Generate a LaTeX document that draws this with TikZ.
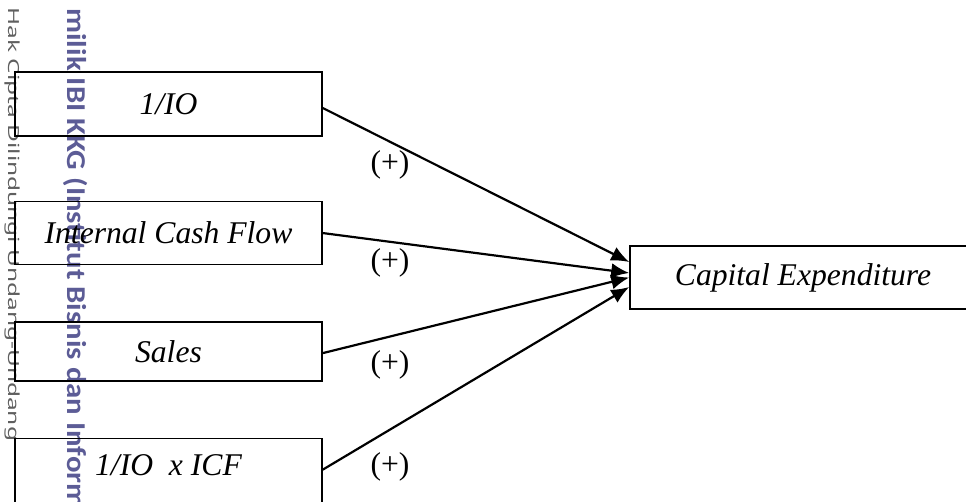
\documentclass[tikz,border=0pt]{standalone}
\usepackage{fontspec}
\setmainfont{Liberation Serif}
\newfontfamily\markfont{Noto Sans}
\newfontfamily\stampfont{Carlito}
\usetikzlibrary{positioning,arrows.meta}
\definecolor{stampblue}{RGB}{92,92,150}
\definecolor{markgray}{RGB}{95,95,95}

\begin{document}
\begin{tikzpicture}[x=0.02cm, y=-0.02cm,
        font=\fontsize{18}{21.6}\selectfont,
        var/.style={draw, line width=0.9pt, minimum width=6.14cm, inner sep=0pt,
            font=\fontsize{18}{21.6}\selectfont\itshape},
        link/.style={line width=1.25pt, -{Latex[length=0.36cm,width=0.3cm]}}]
        \useasboundingbox (0,0) rectangle (966,502);
        \clip (0,0) rectangle (966,502);

        % Stamps along the margin
        \node (hak) [anchor=base west, rotate=-90, xscale=1.6, inner sep=0pt,
            text=markgray, font=\markfont\fontsize{8.7}{10}\selectfont]
            at (9,7) {Hak Cipta Dilindungi Undang-Undang};
        \node (milik) [anchor=base west, rotate=-90, xscale=1.13, inner sep=0pt,
            text=stampblue, font=\stampfont\bfseries\fontsize{15.5}{17}\selectfont]
            at (67,8) {milik IBI KKG (Institut Bisnis dan Inform};

        % Nodes
        \node (io) [var, minimum height=1.28cm] at (168.5,104) {1/IO};
        \node (icf) [var, minimum height=1.26cm, below=1.28cm of io] {Internal Cash Flow};
        \node (sales) [var, minimum height=1.18cm, below=1.12cm of icf] {Sales};
        \node (inter) [var, minimum height=1.48cm, text depth=0.42cm, below=1.12cm of sales] {1/IO\ \ x ICF};
        \node (capex) [var, minimum width=6.92cm, minimum height=1.26cm] at (803,277.5) {Capital Expenditure};

        % Arrows
        \draw[link] ([yshift=-0.08cm]io.east) -- ([yshift=0.31cm]capex.west);
        \draw[link] (icf.east) -- ([yshift=0.09cm]capex.west);
        \draw[link] ([yshift=-0.03cm]sales.east) -- (capex.west);
        \draw[link] ([yshift=0.12cm]inter.east) -- ([yshift=-0.19cm]capex.west);

        % Signs
        \node (s1) at (390,165) {(+)};
        \node (s2) at (390,263) {(+)};
        \node (s3) at (390,365) {(+)};
        \node (s4) at (390,467) {(+)};
\end{tikzpicture}
\end{document}
